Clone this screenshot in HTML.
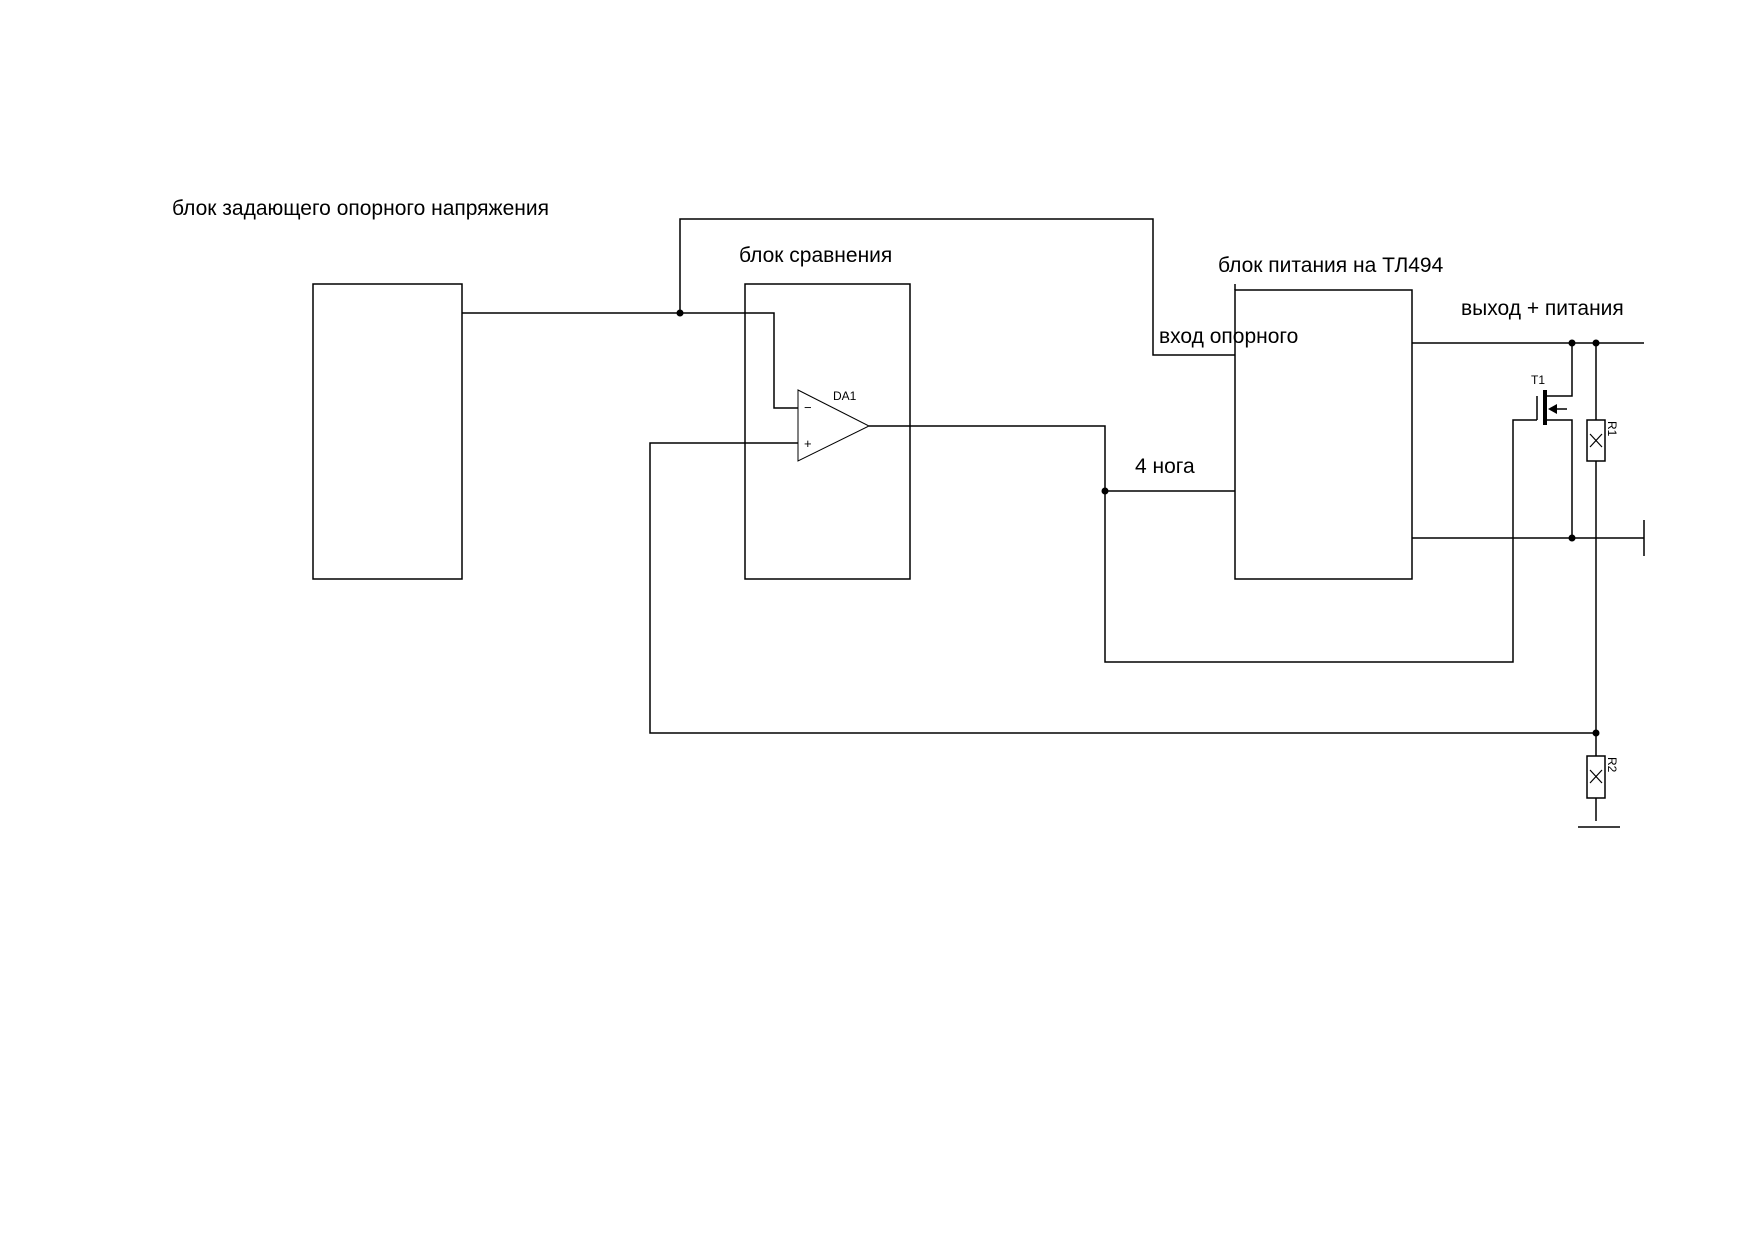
<!DOCTYPE html>
<html><head><meta charset="utf-8"><style>
html,body{margin:0;padding:0;background:#fff;}
svg{display:block;}
text{font-family:"Liberation Sans",Arial,sans-serif;fill:#000;}
</style></head><body>
<svg width="1754" height="1240" viewBox="0 0 1754 1240" xmlns="http://www.w3.org/2000/svg">
<g fill="none" stroke="#000" stroke-width="1.5">
<rect x="313" y="284" width="149" height="295"/>
<rect x="745" y="284" width="165" height="295"/>
<rect x="1235" y="290" width="177" height="289"/>
<line x1="1235" y1="284" x2="1235" y2="290"/>
<polyline points="462,313 774,313 774,408 798,408"/>
<polyline points="680,313 680,219 1153,219 1153,355 1235,355"/>
<polygon points="798,390 869,426 798,461" stroke-width="1"/>
<polyline points="869,426 1105,426 1105,662 1513,662 1513,420 1537,420"/>
<line x1="1105" y1="491" x2="1235" y2="491"/>
<polyline points="798,443 650,443 650,733 1596,733"/>
<line x1="1412" y1="343" x2="1644" y2="343"/>
<line x1="1412" y1="538" x2="1644" y2="538"/>
<line x1="1644" y1="520" x2="1644" y2="556"/>
<line x1="1537" y1="396" x2="1537" y2="420"/>
<line x1="1545" y1="390" x2="1545" y2="425" stroke-width="4"/>
<polyline points="1545,396 1572,396 1572,343"/>
<polyline points="1545,420 1572,420 1572,538"/>
<line x1="1556" y1="409" x2="1567" y2="409"/>
<line x1="1596" y1="343" x2="1596" y2="420"/>
<rect x="1587" y="420" width="18" height="41"/>
<line x1="1596" y1="461" x2="1596" y2="756"/>
<rect x="1587" y="756" width="18" height="42"/>
<line x1="1596" y1="798" x2="1596" y2="821"/>
<line x1="1578" y1="827" x2="1620" y2="827"/>
<g stroke-width="1.2">
<line x1="1590" y1="434" x2="1602" y2="447"/><line x1="1602" y1="434" x2="1590" y2="447"/>
<line x1="1590" y1="770" x2="1602" y2="783"/><line x1="1602" y1="770" x2="1590" y2="783"/>
</g>
</g>
<polygon points="1548,409 1557,404 1557,414" fill="#000"/>
<g fill="#000">
<circle cx="680" cy="313" r="3.5"/>
<circle cx="1105" cy="491" r="3.5"/>
<circle cx="1572" cy="343" r="3.5"/>
<circle cx="1596" cy="343" r="3.5"/>
<circle cx="1572" cy="538" r="3.5"/>
<circle cx="1596" cy="733" r="3.5"/>
</g>
<text x="172" y="215" font-size="21">блок задающего опорного напряжения</text>
<text x="739" y="262" font-size="21">блок сравнения</text>
<text x="1218" y="272" font-size="21">блок питания на ТЛ494</text>
<text x="1461" y="315" font-size="21">выход + питания</text>
<text x="1159" y="343" font-size="21">вход опорного</text>
<text x="1135" y="473" font-size="21">4 нога</text>
<text x="833" y="400" font-size="12">DA1</text>
<text x="804" y="412" font-size="13">−</text>
<text x="804" y="448" font-size="13">+</text>
<text x="1531" y="384" font-size="12">T1</text>
<text font-size="12" transform="translate(1608,421) rotate(90)">R1</text>
<text font-size="12" transform="translate(1608,757) rotate(90)">R2</text>
</svg>
</body></html>
